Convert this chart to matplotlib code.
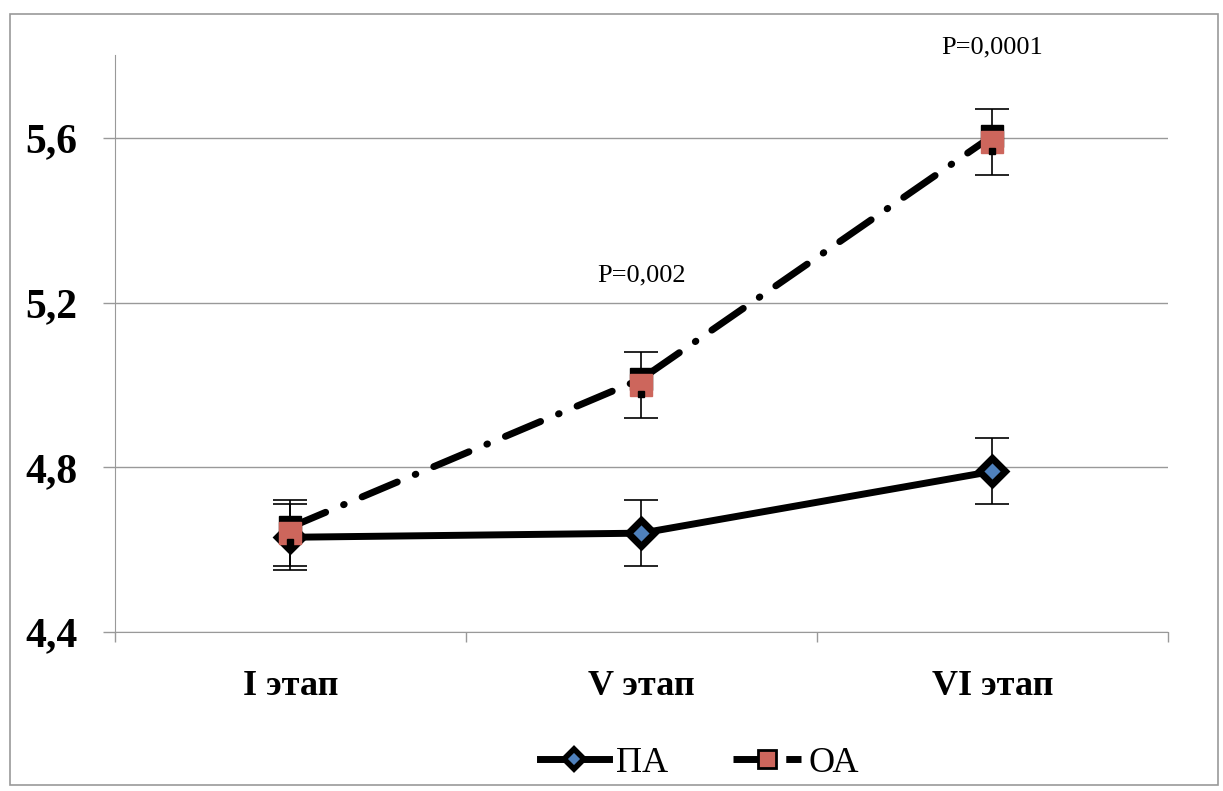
#ПА vs ОА by stage, with SD bars and p-values
import matplotlib
matplotlib.use("Agg")
import matplotlib.pyplot as plt
import matplotlib.transforms as mtrans
from matplotlib.patches import Rectangle
from matplotlib.lines import Line2D

stages = ["I этап", "V этап", "VI этап"]
pa = [4.63, 4.64, 4.79]
pa_err = [0.08, 0.08, 0.08]
oa = [4.64, 5.00, 5.59]
oa_err = [0.08, 0.08, 0.08]
p_labels = ["", "P=0,002", "P=0,0001"]
p_y = [None, 5.265, 5.82]
yticks = [4.4, 4.8, 5.2, 5.6]

plt.rcParams["font.family"] = ["Liberation Serif", "DejaVu Serif"]

fig = plt.figure(figsize=(12.23, 7.91), dpi=100)
ax = fig.add_axes([0.094, 0.201, 0.861, 0.729])
fig.patches.append(Rectangle((0.008, 0.007), 0.988, 0.975, transform=fig.transFigure,
                             fill=False, edgecolor="#999999", lw=1.2))

x = list(range(len(stages)))
up = mtrans.offset_copy(ax.transData, fig=fig, x=0, y=6, units="dots")
down = mtrans.offset_copy(ax.transData, fig=fig, x=0, y=-9, units="dots")

#ПА
ax.errorbar(x, pa, yerr=pa_err, fmt="none", ecolor="black", elinewidth=1.2, capsize=12, capthick=1.2, zorder=3)
ax.plot(x, pa, color="black", lw=5, marker="D", ms=13, mfc="#4f81bd", mec="black", mew=5,
        solid_capstyle="round", zorder=4, label="ПА")

#ОА
ax.errorbar(x, oa, yerr=oa_err, fmt="none", ecolor="black", elinewidth=1.2, capsize=12, capthick=1.2, zorder=3)
ax.plot(x, oa, color="black", lw=5, dashes=(5.5, 2.8, 0.1, 2.8), dash_capstyle="round",
        transform=up, zorder=4)
ax.plot(x, oa, ls="none", marker="s", ms=16, mfc="black", mec="black", transform=up, zorder=5)
ax.plot(x, oa, ls="none", marker="s", ms=16, mfc="#cd665c", mec="#cd665c", zorder=6)
ax.plot(x, oa, ls="none", marker="s", ms=5, mfc="black", mec="black", transform=down, zorder=7)

for xi, lab, yy in zip(x, p_labels, p_y):
    if lab:
        ax.text(xi, yy, lab, ha="center", va="center", fontsize=19, clip_on=False)

ax.set_xlim(-0.5, 2.5)
ax.set_ylim(4.4, 5.8)
ax.set_yticks(yticks)
ax.set_yticklabels([str(v).replace(".", ",") for v in yticks], fontsize=30, fontweight="bold")
ax.tick_params(axis="y", length=8.6, width=1, color="#999999", pad=18.5)
ax.set_xticks([-0.5, 0.5, 1.5, 2.5])
ax.set_xticklabels([])
ax.set_xticks(x, minor=True)
ax.set_xticklabels(stages, minor=True, fontsize=26, fontweight="bold")
ax.tick_params(axis="x", which="major", length=7, width=1, color="#999999")
ax.tick_params(axis="x", which="minor", length=0, pad=27)
ax.grid(axis="y", color="#999999", lw=1)
ax.set_axisbelow(True)
for s in ["top", "right"]:
    ax.spines[s].set_visible(False)
for s in ["left", "bottom"]:
    ax.spines[s].set_color("#999999")

# legend handles
h1 = Line2D([], [], color="black", lw=5, marker="D", ms=10, mfc="#4f81bd", mec="black", mew=4)
h2 = Line2D([], [], color="black", lw=5, dashes=(4.5, 1.5, 0.1, 1.5), marker="s", ms=13,
            mfc="#cd665c", mec="black", mew=2)
fig.legend([h1, h2], ["ПА", "ОА"], loc="center", bbox_to_anchor=(0.572, 0.035), ncol=2,
           frameon=False, fontsize=26, handlelength=1.9, columnspacing=1.8, handletextpad=0.2)

fig.savefig("out.png", dpi=100)
